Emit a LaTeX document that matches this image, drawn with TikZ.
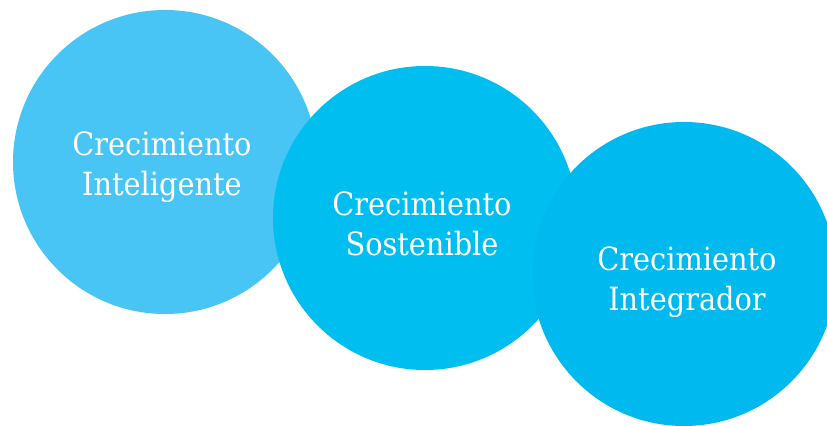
\documentclass[tikz,border=0pt]{standalone}
\usepackage{fontspec}
\setmainfont{DejaVu Serif Condensed}
\definecolor{cA}{HTML}{48C5F4}
\definecolor{cB}{HTML}{00BFF0}
\definecolor{cC}{HTML}{00B9EF}
\begin{document}
\begin{tikzpicture}[x=0.75pt,y=-0.75pt,
  bubble/.style={circle,inner sep=0pt,minimum size=228pt},
  label/.style={text=white,align=center,font=\fontsize{24}{30}\selectfont}]
\useasboundingbox (0,0) rectangle (827,425);
\clip (0,0) rectangle (827,425);
\node[bubble,fill=cA] (c1) at (165,162) {};
\node[bubble,fill=cB] (c2) at (425,218) {};
\node[bubble,fill=cC] (c3) at (684,274) {};
\node[label] (t1) at (162,167) {Crecimiento\\Inteligente};
\node[label] (t2) at (422,224) {Crecimiento\\Sostenible};
\node[label] (t3) at (687,282) {Crecimiento\\Integrador};
\end{tikzpicture}
\end{document}
